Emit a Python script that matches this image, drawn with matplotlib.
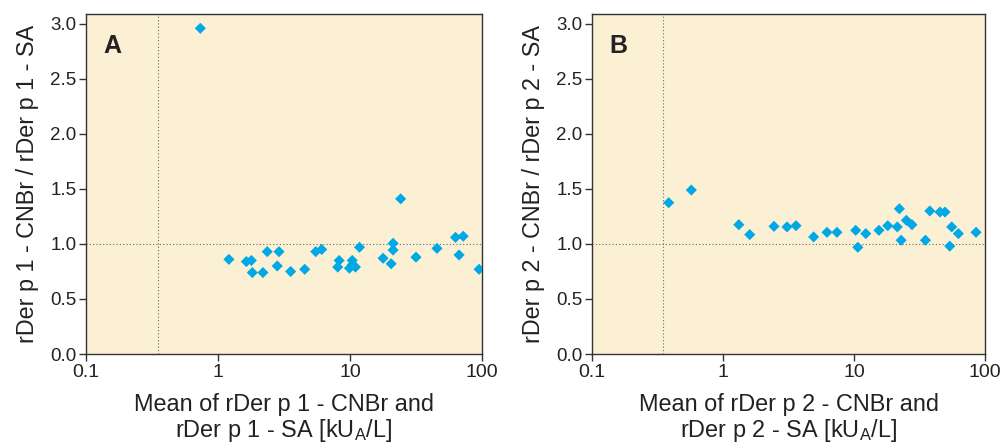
import matplotlib.pyplot as plt
from matplotlib.ticker import FixedLocator, NullLocator

# Panel A: rDer p 1
a_mean = [0.735, 1.21, 1.64, 1.79, 1.82, 2.19, 2.36, 2.81, 2.90, 3.55, 4.54,
          5.50, 6.1, 8.27, 8.07, 9.9, 10.4, 11.0, 10.4, 11.8, 17.8, 20.5,
          21.2, 21.2, 24.2, 31.6, 45.6, 63, 72, 67, 95]
a_ratio = [2.96, 0.86, 0.84, 0.85, 0.74, 0.74, 0.93, 0.80, 0.93, 0.75, 0.77,
           0.93, 0.95, 0.85, 0.79, 0.78, 0.85, 0.79, 0.81, 0.97, 0.87, 0.82,
           1.006, 0.945, 1.41, 0.88, 0.96, 1.06, 1.07, 0.90, 0.77]

# Panel B: rDer p 2
b_mean = [0.385, 0.573, 1.32, 1.60, 2.45, 3.08, 3.61, 4.92, 6.22, 7.41, 10.3,
          10.7, 12.3, 15.5, 18.1, 21.4, 22.2, 22.9, 25.1, 27.7, 35.1, 37.9,
          45.3, 49.5, 53.8, 55.7, 62.6, 85.4]
b_ratio = [1.375, 1.49, 1.175, 1.085, 1.16, 1.155, 1.166, 1.064, 1.106, 1.106,
           1.124, 0.97, 1.094, 1.124, 1.166, 1.155, 1.32, 1.034, 1.215, 1.175,
           1.034, 1.30, 1.29, 1.29, 0.98, 1.155, 1.094, 1.106]

cutoff = 0.35
xticks = [0.1, 1, 10, 100]
xticklabels = ['0.1', '1', '10', '100']
yticks = [0.0, 0.5, 1.0, 1.5, 2.0, 2.5, 3.0]

plt.rcParams['font.family'] = ['Liberation Sans', 'DejaVu Sans']

fig = plt.figure(figsize=(10.08, 4.43), dpi=100)
ax_a = fig.add_axes([0.0853, 0.2009, 0.3929, 0.7675])
ax_b = fig.add_axes([0.5873, 0.2009, 0.3899, 0.7675])

panels = [
    (ax_a, a_mean, a_ratio, 'A', '1'),
    (ax_b, b_mean, b_ratio, 'B', '2'),
]

for ax, xs, ys, letter, p in panels:
    ax.set_facecolor('#fcf0d4')
    ax.set_xscale('log')
    ax.set_xlim(0.1, 100)
    ax.set_ylim(0, 3.09)
    ax.axhline(1.0, color='#666666', ls=(0, (1, 2)), lw=0.8, zorder=1)
    ax.axvline(cutoff, color='#666666', ls=(0, (1, 2)), lw=0.8, zorder=1)
    ax.scatter(xs, ys, marker='D', s=32, color='#00a8e6', edgecolors='none', zorder=3)

    ax.xaxis.set_major_locator(FixedLocator(xticks))
    ax.xaxis.set_minor_locator(NullLocator())
    ax.set_xticklabels(xticklabels, fontsize=14, color='#222222')
    ax.set_yticks(yticks)
    ax.set_yticklabels(['%.1f' % v for v in yticks], fontsize=13.5, color='#222222')
    ax.tick_params(direction='out', length=5, width=1, color='#333333', pad=2)

    for s in ax.spines.values():
        s.set_color('#333333')
        s.set_linewidth(1)

    ax.text(0.045, 0.94, letter, transform=ax.transAxes, fontsize=18,
            fontweight='bold', va='top', ha='left', color='#222222')
    ax.set_ylabel('rDer p %s - CNBr / rDer p %s - SA' % (p, p), fontsize=16.8,
                  color='#222222', labelpad=8)
    ax.set_xlabel('Mean of rDer p %s - CNBr and\nrDer p %s - SA [kU$_\\mathregular{A}$/L]' % (p, p),
                  fontsize=16.9, color='#222222', labelpad=9,
                  linespacing=1.05)

fig.savefig('out.png', dpi=100)
